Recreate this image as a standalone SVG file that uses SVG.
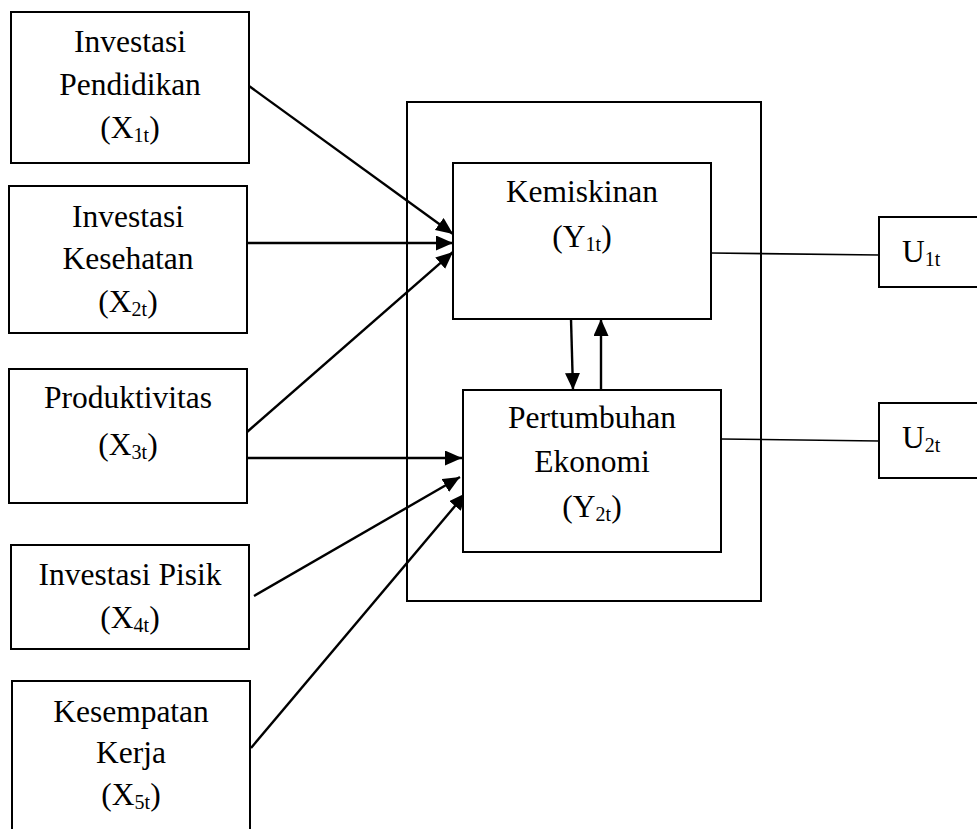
<svg xmlns="http://www.w3.org/2000/svg" width="977" height="829" viewBox="0 0 977 829">
<style>
  .box { fill: #fff; stroke: #000; stroke-width: 2; }
  .frame { fill: none; stroke: #000; stroke-width: 2; }
  .t { font-family: "Liberation Serif", "Times New Roman", serif; font-size: 31.5px; fill: #000; text-anchor: middle; }
  .tl { font-family: "Liberation Serif", "Times New Roman", serif; font-size: 31.5px; fill: #000; }
  .sub { font-size: 20px; }
  .arr { stroke: #000; stroke-width: 2.4; fill: none; marker-end: url(#ah); }
  .ln { stroke: #000; stroke-width: 1.6; fill: none; }
</style>
<defs>
  <marker id="ah" markerUnits="userSpaceOnUse" markerWidth="18" markerHeight="16" refX="17" refY="7.5" orient="auto">
    <path d="M0,0 L17,7.5 L0,15 z" fill="#000"/>
  </marker>
</defs>
<rect width="977" height="829" fill="#fff"/>

<g id="outer">
  <rect class="frame" x="407" y="102" width="354" height="499"/>
</g>

<g id="connectors">
  <line class="arr" x1="249" y1="86" x2="453" y2="234"/>
  <line class="arr" x1="247" y1="243" x2="453" y2="243"/>
  <line class="arr" x1="247" y1="432" x2="453" y2="252"/>
  <line class="arr" x1="247" y1="458" x2="462" y2="458"/>
  <line class="arr" x1="254" y1="596" x2="460" y2="477"/>
  <line class="arr" x1="251" y1="748" x2="466" y2="493"/>
  <line class="arr" x1="571" y1="319" x2="573" y2="390"/>
  <line class="arr" x1="601" y1="390" x2="601" y2="319"/>
  <line class="ln" x1="711" y1="253" x2="879" y2="255"/>
  <line class="ln" x1="721" y1="439" x2="879" y2="441"/>
</g>

<g id="x1">
  <rect class="box" x="11" y="12" width="238" height="151"/>
  <text class="t" x="130" y="52">Investasi</text>
  <text class="t" x="130" y="95">Pendidikan</text>
  <text class="t" x="130" y="138">(X<tspan class="sub" dy="4">1t</tspan><tspan dy="-4">)</tspan></text>
</g>

<g id="x2">
  <rect class="box" x="9" y="186" width="238" height="147"/>
  <text class="t" x="128" y="227">Investasi</text>
  <text class="t" x="128" y="269">Kesehatan</text>
  <text class="t" x="128" y="312">(X<tspan class="sub" dy="4">2t</tspan><tspan dy="-4">)</tspan></text>
</g>

<g id="x3">
  <rect class="box" x="9" y="369" width="238" height="134"/>
  <text class="t" x="128" y="408">Produktivitas</text>
  <text class="t" x="128" y="455">(X<tspan class="sub" dy="4">3t</tspan><tspan dy="-4">)</tspan></text>
</g>

<g id="x4">
  <rect class="box" x="11" y="545" width="238" height="104"/>
  <text class="t" x="130" y="585">Investasi Pisik</text>
  <text class="t" x="130" y="628">(X<tspan class="sub" dy="4">4t</tspan><tspan dy="-4">)</tspan></text>
</g>

<g id="x5">
  <rect class="box" x="12" y="681" width="238" height="160"/>
  <text class="t" x="131" y="722">Kesempatan</text>
  <text class="t" x="131" y="763">Kerja</text>
  <text class="t" x="131" y="805">(X<tspan class="sub" dy="4">5t</tspan><tspan dy="-4">)</tspan></text>
</g>

<g id="y1">
  <rect class="box" x="453" y="163" width="258" height="156"/>
  <text class="t" x="582" y="202">Kemiskinan</text>
  <text class="t" x="582" y="247">(Y<tspan class="sub" dy="4">1t</tspan><tspan dy="-4">)</tspan></text>
</g>

<g id="y2">
  <rect class="box" x="463" y="390" width="258" height="162"/>
  <text class="t" x="592" y="428">Pertumbuhan</text>
  <text class="t" x="592" y="472">Ekonomi</text>
  <text class="t" x="592" y="517">(Y<tspan class="sub" dy="4">2t</tspan><tspan dy="-4">)</tspan></text>
</g>

<g id="u1">
  <rect class="box" x="879" y="217" width="110" height="70"/>
  <text class="tl" x="902" y="262">U<tspan class="sub" dy="4">1t</tspan></text>
</g>

<g id="u2">
  <rect class="box" x="879" y="403" width="110" height="75"/>
  <text class="tl" x="902" y="448">U<tspan class="sub" dy="4">2t</tspan></text>
</g>
</svg>
